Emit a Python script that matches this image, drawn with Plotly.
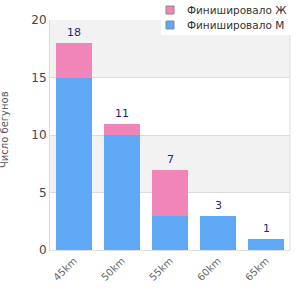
import plotly.graph_objects as go

categories = ["45km", "50km", "55km", "60km", "65km"]
finished_m = [15, 10, 3, 3, 1]
finished_f = [3, 1, 4, 0, 0]
totals = [m + f for m, f in zip(finished_m, finished_f)]
legend_names = ["Финишировало Ж", "Финишировало М"]

color_m = "#5fa8f5"
color_f = "#f285b8"

L, R, T, B = 50, 10, 20, 50
PW, PH = 300 - L - R, 300 - T - B


def px(x):
    return (x - L) / PW


def py(y):
    return (300 - B - y) / PH


fig = go.Figure()
fig.add_trace(go.Bar(x=categories, y=finished_m, name=legend_names[1], showlegend=False,
                     marker=dict(color=color_m, line=dict(width=0)), width=0.73))
fig.add_trace(go.Bar(x=categories, y=finished_f, name=legend_names[0], showlegend=False,
                     marker=dict(color=color_f, line=dict(width=0)), width=0.73))

annotations = []
for c, t in zip(categories, totals):
    annotations.append(dict(x=c, y=t, xref="x", yref="y", text=str(t), showarrow=False,
                            yanchor="bottom", yshift=2,
                            font=dict(color="#1f1f8f", size=11, family="DejaVu Sans")))

shapes = []
for lo, hi in [(5, 10), (15, 20)]:
    shapes.append(dict(type="rect", xref="paper", yref="y", x0=0, x1=1, y0=lo, y1=hi,
                       fillcolor="#f2f2f2", line=dict(width=0), layer="below"))
shapes.append(dict(type="line", xref="paper", yref="paper", x0=1, x1=1, y0=0, y1=1,
                   line=dict(color="#dddddd", width=1)))
# legend background box and entries
shapes.append(dict(type="rect", xref="paper", yref="paper",
                   x0=px(161), x1=px(291), y0=py(35), y1=py(0),
                   fillcolor="white", line=dict(width=0), layer="above"))
for i, (name, col) in enumerate(zip(legend_names, [color_f, color_m])):
    cy = 10 + 15 * i
    shapes.append(dict(type="rect", xref="paper", yref="paper",
                       x0=px(166), x1=px(174), y0=py(cy + 4), y1=py(cy - 4),
                       fillcolor=col, line=dict(color="#888888", width=1), layer="above"))
    annotations.append(dict(x=px(185), y=py(cy), xref="paper", yref="paper", text=name,
                            showarrow=False, xanchor="left", yanchor="middle",
                            font=dict(size=10.5, color="#333333")))

annotations.append(dict(x=px(4), y=py(130), xref="paper", yref="paper", text="Число бегунов",
                        showarrow=False, textangle=-90, xanchor="center", yanchor="middle",
                        font=dict(size=10, color="#555555")))

fig.update_layout(
    width=300, height=300,
    margin=dict(l=L, r=R, t=T, b=B),
    barmode="stack",
    plot_bgcolor="white", paper_bgcolor="white",
    font=dict(family="DejaVu Sans", size=11, color="#444444"),
    shapes=shapes,
    annotations=annotations,
    showlegend=False,
    xaxis=dict(tickangle=-45, showline=True, linecolor="#dddddd", linewidth=1,
               tickfont=dict(size=10, color="#666666"), ticks=""),
    yaxis=dict(range=[0, 20], dtick=5, showgrid=True, gridcolor="#dddddd",
               showline=True, linecolor="#dddddd", zeroline=False,
               tickfont=dict(size=12, color="#444444")),
)

fig.write_html("out.html")
